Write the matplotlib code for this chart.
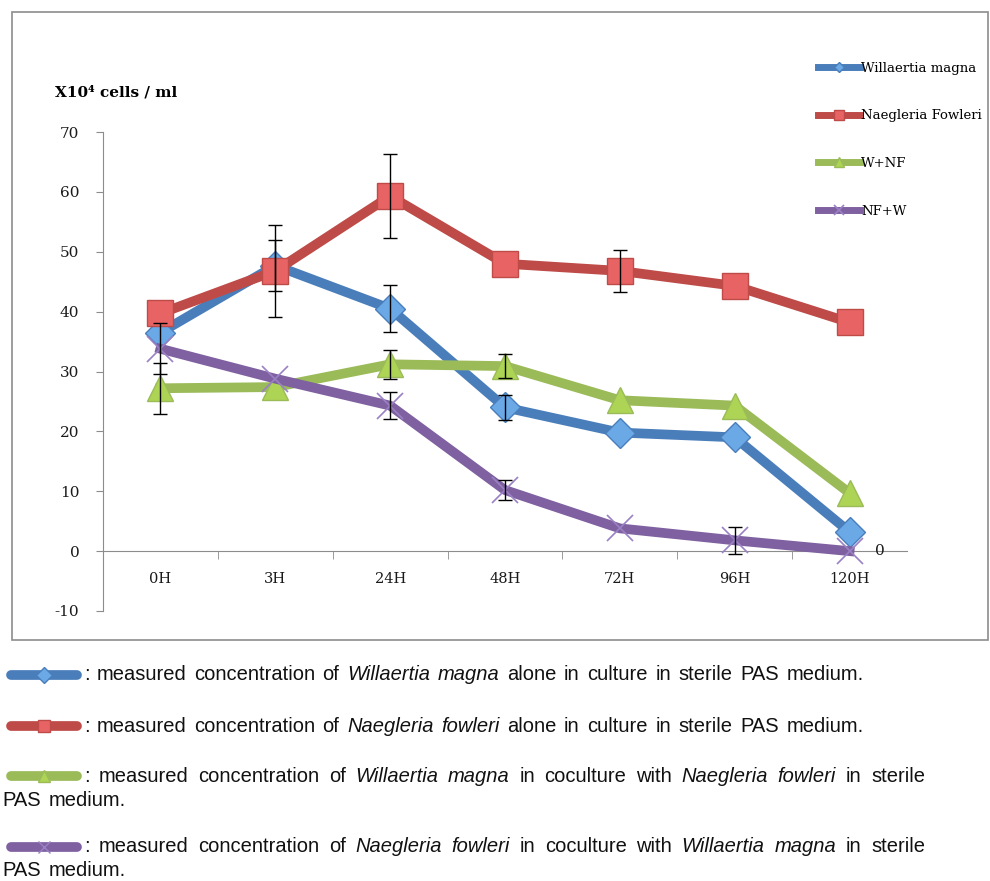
import matplotlib.pyplot as plt
from matplotlib.lines import Line2D
from matplotlib.patches import Rectangle

# data
temps = ['0H', '3H', '24H', '48H', '72H', '96H', '120H']
willaertia = [36.5, 47.7, 40.5, 24.0, 19.8, 19.0, 3.2]
willaertia_err = [0, 4.2, 3.9, 2.1, 0, 0, 0]
naegleria = [39.7, 46.8, 59.3, 48.0, 46.8, 44.3, 38.2]
naegleria_err = [0, 7.7, 7.0, 0, 3.5, 0, 0]
w_nf = [27.2, 27.4, 31.2, 30.9, 25.2, 24.3, 9.7]
w_nf_err = [4.3, 0, 2.4, 2.0, 0, 0, 0]
nf_w = [33.8, 28.8, 24.3, 10.2, 3.8, 1.8, 0.0]
nf_w_err = [4.3, 0, 2.3, 1.6, 0, 2.2, 0]

series = [
    ('Willaertia magna', willaertia, willaertia_err, '#4A7EBB', 'D', '#6AA8E6', 15, 1.0),
    ('Naegleria Fowleri', naegleria, naegleria_err, '#BE4B48', 's', '#E86464', 19, 1.0),
    ('W+NF', w_nf, w_nf_err, '#9BBB59', '^', '#AED455', 19, 1.0),
    ('NF+W', nf_w, nf_w_err, '#7F60A0', 'x', '#9A80C4', 19, 1.2),
]

plt.rcParams['axes.unicode_minus'] = False
serif = ['DejaVu Serif']
W, H = 990, 881
fig = plt.figure(figsize=(W / 100, H / 100), dpi=100)

def fx(px):
    return px / W

def fy(py):
    return 1 - py / H

ax = fig.add_axes([fx(103), fy(611), fx(907) - fx(103), fy(132) - fy(611)])
x = list(range(len(temps)))

for name, vals, err, col, mk, mfc, ms, mew in series:
    if mk == 'x':
        ax.plot(x, vals, color=col, lw=7, marker=mk, ms=ms, mec=mfc, mew=mew,
                label=name, zorder=3)
    else:
        ax.plot(x, vals, color=col, lw=7, marker=mk, ms=ms, mfc=mfc,
                mec=col, mew=1.0, label=name, zorder=3)
    xe = [i for i in x if err[i] > 0]
    ax.errorbar(xe, [vals[i] for i in xe], yerr=[err[i] for i in xe], fmt='none',
                ecolor='black', elinewidth=1.0, capsize=5, capthick=1.0, zorder=4)

ax.set_xlim(-0.5, len(temps) - 0.5)
ax.set_ylim(-10, 70)
ax.set_yticks(range(-10, 71, 10))
ax.set_xticks(x)
ax.set_xticklabels(temps)
ax.set_xticks([i + 0.5 for i in x[:-1]], minor=True)

for s in ['top', 'right']:
    ax.spines[s].set_visible(False)
ax.spines['left'].set_color('#8c8c8c')
ax.spines['bottom'].set_position(('data', 0))
ax.spines['bottom'].set_color('#8c8c8c')
ax.tick_params(axis='y', direction='out', length=5, color='#8c8c8c', labelsize=11,
               pad=12)
ax.tick_params(axis='x', which='major', length=0, pad=15, labelsize=10.5)
ax.tick_params(axis='x', which='minor', direction='out', length=6, color='#8c8c8c')
for lab in ax.get_xticklabels() + ax.get_yticklabels():
    lab.set_family(serif)
    lab.set_color('#1a1a1a')

ax.text(len(temps) - 1 + 0.22, nf_w[-1], '0', fontsize=11, family=serif,
        va='center', ha='left', color='#1a1a1a')

fig.text(fx(55), fy(92), 'X10⁴ cells / ml', fontsize=11, family=serif,
         fontweight='bold', va='center', ha='left')

leg = ax.legend(loc='upper left', bbox_to_anchor=(fx(806), fy(50)),
                bbox_transform=fig.transFigure, frameon=False, handlelength=3.2,
                handletextpad=0.1, labelspacing=2.62, markerscale=0.35,
                prop={'family': serif, 'size': 9.5})
for h in leg.legend_handles:
    h.set_linewidth(5)

# outer chart frame
fig.add_artist(Rectangle((fx(12), fy(640)), fx(988) - fx(12), fy(12) - fy(640),
                         transform=fig.transFigure, fill=False,
                         edgecolor='#8c8c8c', lw=1.2))

# caption below the chart
cap_font = ['Liberation Sans Narrow', 'Liberation Sans']
captions = [
    [[(':', 0), ('measured', 0), ('concentration', 0), ('of', 0), ('Willaertia', 1),
      ('magna', 1), ('alone', 0), ('in', 0), ('culture', 0), ('in', 0), ('sterile', 0),
      ('PAS', 0), ('medium.', 0)]],
    [[(':', 0), ('measured', 0), ('concentration', 0), ('of', 0), ('Naegleria', 1),
      ('fowleri', 1), ('alone', 0), ('in', 0), ('culture', 0), ('in', 0), ('sterile', 0),
      ('PAS', 0), ('medium.', 0)]],
    [[(':', 0), ('measured', 0), ('concentration', 0), ('of', 0), ('Willaertia', 1),
      ('magna', 1), ('in', 0), ('coculture', 0), ('with', 0), ('Naegleria', 1),
      ('fowleri', 1), ('in', 0), ('sterile', 0)],
     [('PAS', 0), ('medium.', 0)]],
    [[(':', 0), ('measured', 0), ('concentration', 0), ('of', 0), ('Naegleria', 1),
      ('fowleri', 1), ('in', 0), ('coculture', 0), ('with', 0), ('Willaertia', 1),
      ('magna', 1), ('in', 0), ('sterile', 0)],
     [('PAS', 0), ('medium.', 0)]],
]
cap_y = [675, 726, 776, 847]
cap_size = 14.5
renderer = fig.canvas.get_renderer()

def draw_words(words, x0, y, x1=None):
    arts = []
    for w, it in words:
        t = fig.text(0, fy(y), w, fontsize=cap_size, family=cap_font,
                     style='italic' if it else 'normal', va='center', ha='left',
                     color='#111111')
        arts.append(t)
    widths = [a.get_window_extent(renderer).width for a in arts]
    space = fig.text(0, 0, 'a b', fontsize=cap_size, family=cap_font)
    sp = space.get_window_extent(renderer).width
    space.remove()
    ab = fig.text(0, 0, 'ab', fontsize=cap_size, family=cap_font)
    sp -= ab.get_window_extent(renderer).width
    ab.remove()
    sp *= 1.35
    gaps = [sp] * (len(words) - 1)
    if words[0][0] == ':':
        gaps[0] = sp * 0.9
    if x1 is not None and len(words) > 1:
        extra = (x1 - x0 - sum(widths) - sum(gaps)) / (len(words) - 1)
        gaps = [g + extra for g in gaps]
    cur = x0
    for i, a in enumerate(arts):
        a.set_x(fx(cur))
        cur += widths[i] + (gaps[i] if i < len(gaps) else 0)

for k, (name, vals, err, col, mk, mfc, ms, mew) in enumerate(series):
    y = cap_y[k]
    fig.add_artist(Line2D([fx(11), fx(77)], [fy(y), fy(y)], transform=fig.transFigure,
                          color=col, lw=7, solid_capstyle='round'))
    fig.add_artist(Line2D([fx(44)], [fy(y)], transform=fig.transFigure, marker=mk,
                          ms=8, mfc=mfc, mec=mfc if mk == 'x' else col, mew=1.0))
    lines = captions[k]
    if len(lines) == 1:
        draw_words(lines[0], 84, y)
    else:
        draw_words(lines[0], 84, y, 925)
        draw_words(lines[1], 2, y + 24)

fig.savefig('out.png', dpi=100)
